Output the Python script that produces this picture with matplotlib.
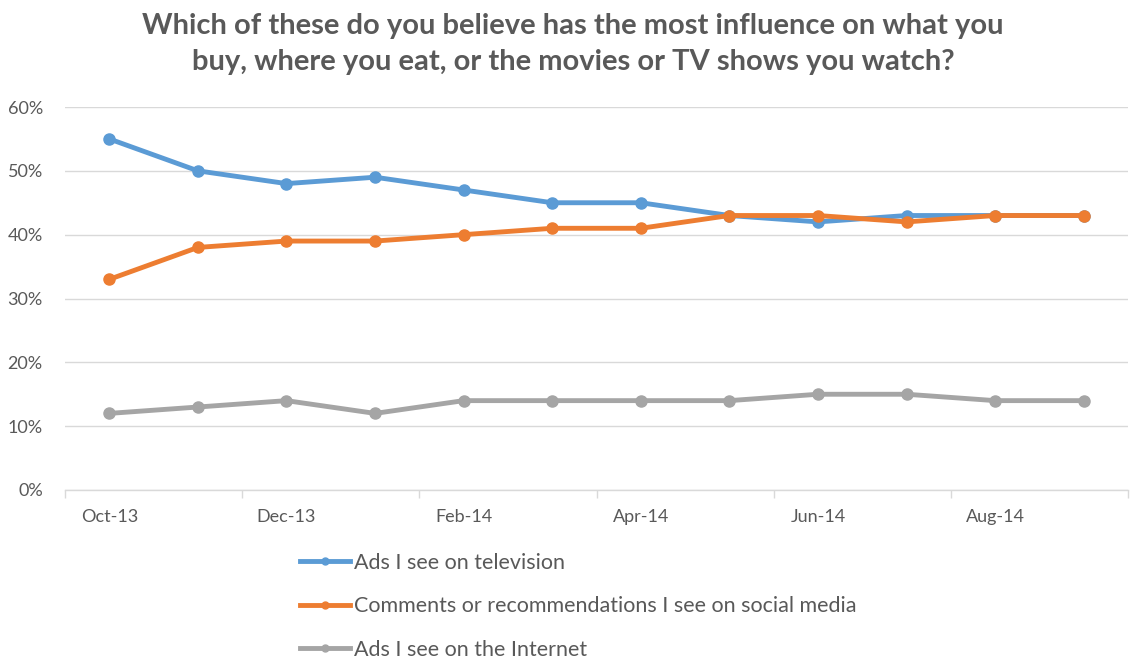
import matplotlib
matplotlib.use("Agg")
import matplotlib.pyplot as plt
from matplotlib.ticker import FuncFormatter

months = ["Oct-13", "Nov-13", "Dec-13", "Jan-14", "Feb-14", "Mar-14",
          "Apr-14", "May-14", "Jun-14", "Jul-14", "Aug-14", "Sep-14"]
tv = [55, 50, 48, 49, 47, 45, 45, 43, 42, 43, 43, 43]
social = [33, 38, 39, 39, 40, 41, 41, 43, 43, 42, 43, 43]
internet = [12, 13, 14, 12, 14, 14, 14, 14, 15, 15, 14, 14]
series_names = ["Ads I see on television",
                "Comments or recommendations I see on social media",
                "Ads I see on the Internet"]
colors = ["#5B9BD5", "#ED7D31", "#A5A5A5"]
title = ("Which of these do you believe has the most influence on what you\n"
         "buy, where you eat, or the movies or TV shows you watch?")

plt.rcParams['font.family'] = ['Lato', 'DejaVu Sans']
TXT = "#595959"
GRID = "#D9D9D9"

fig = plt.figure(figsize=(11.31, 6.62), dpi=100)
ax = fig.add_axes([65/1131, 1-490/662, (1128-65)/1131, (490-107)/662])

x = list(range(len(months)))
for vals, c, name in zip([tv, social, internet], colors, series_names):
    ax.plot(x, [v/100 for v in vals], color=c, lw=3.5, marker='o',
            markersize=8, label=name, solid_capstyle='round', zorder=3)

ax.set_ylim(0, 0.6)
ax.set_yticks([i/10 for i in range(7)])
ax.yaxis.set_major_formatter(FuncFormatter(lambda v, p: f"{v*100:.0f}%"))
ax.set_xlim(-0.5, len(months)-0.5)
ax.set_xticks(x[::2])
ax.set_xticklabels(months[::2])
ax.set_xticks([i - 0.5 for i in range(0, len(months)+1, 2)], minor=True)
ax.tick_params(axis='x', which='major', length=0, pad=14, labelsize=13, labelcolor=TXT)
ax.tick_params(axis='x', which='minor', length=6, color=GRID, width=1)
ax.tick_params(axis='y', length=0, pad=16, labelsize=13, labelcolor=TXT)
ax.grid(axis='y', color=GRID, lw=1)
for s in ['top', 'right', 'left']:
    ax.spines[s].set_visible(False)
ax.spines['bottom'].set_color(GRID)
ax.spines['bottom'].set_linewidth(1)

fig.text(573/1131, 1-44/662, title, ha='center', va='center', fontsize=21,
         fontweight='bold', color=TXT, linespacing=1.45)

leg_handles = []
for c, name in zip(colors, series_names):
    h, = ax.plot([], [], color=c, lw=3.5, marker='o', markersize=5, label=name)
    leg_handles.append(h)
fig.legend(handles=leg_handles, loc='upper left', bbox_to_anchor=(300/1131, 1-553/662),
           frameon=False, fontsize=15.5, labelcolor=TXT, handlelength=2.3,
           handletextpad=0.2, labelspacing=1.08, borderpad=0, borderaxespad=0)

fig.savefig("out.png", dpi=100)
